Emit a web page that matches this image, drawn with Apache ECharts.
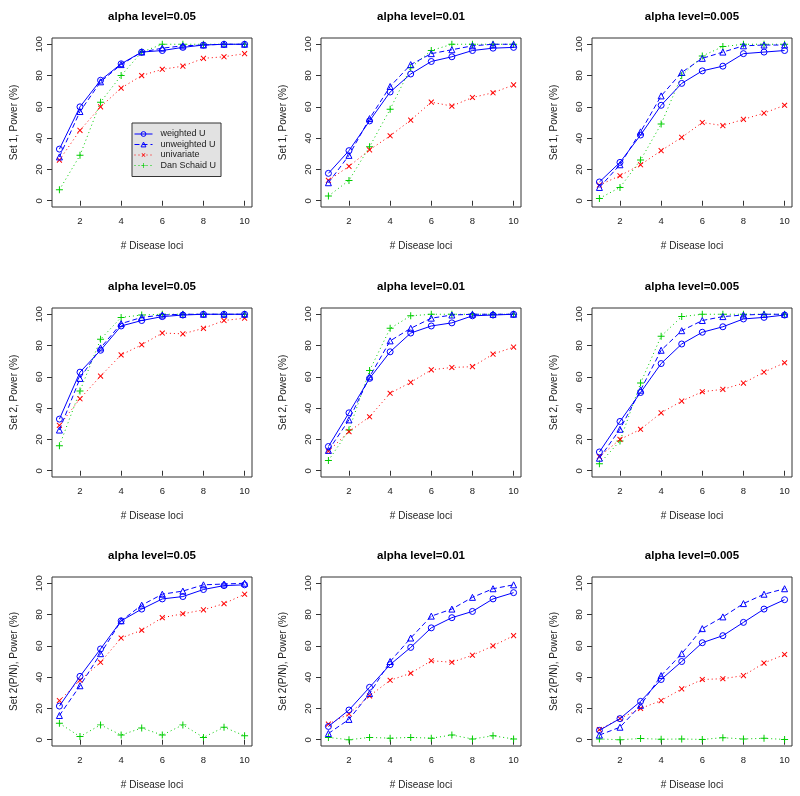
<!DOCTYPE html>
<html>
<head>
<meta charset="utf-8">
<script src="https://cdn.jsdelivr.net/npm/echarts@6/dist/echarts.min.js"></script>
<style>
  html, body { margin: 0; padding: 0; background: #fff; }
  #main { width: 800px; height: 796px; }
</style>
</head>
<body>
<div id="main"></div>
<script>
// x values and tick labels
var loci = [1, 2, 3, 4, 5, 6, 7, 8, 9, 10];
var xTicks = [2, 4, 6, 8, 10];
var yTicks = [0, 20, 40, 60, 80, 100];
var titles = ["alpha level=0.05", "alpha level=0.01", "alpha level=0.005"];
var yNames = ["Set 1, Power (%)", "Set 2, Power (%)", "Set 2(P/N), Power (%)"];
var seriesNames = ["weighted U", "unweighted U", "univariate", "Dan Schaid U"];

// Set 1
var set1_05_weighted = [33, 60, 77, 87.5, 95, 96, 98, 99.5, 100, 100];
var set1_05_unweighted = [28, 57, 76, 87, 95, 97.5, 99, 99.5, 100, 100];
var set1_05_univariate = [26, 45, 60, 72, 80, 84, 86, 91, 92, 94];
var set1_05_schaid = [7, 29, 63, 80, 95, 100, 100, 100, 100, 100];

var set1_01_weighted = [17.5, 32, 51, 69.5, 81, 89, 92, 96, 97.5, 98];
var set1_01_unweighted = [11.5, 29, 52.5, 73, 87, 94, 96.5, 99, 100, 100];
var set1_01_univariate = [13, 22, 32.5, 41.5, 51.5, 63, 60.5, 66, 69, 74];
var set1_01_schaid = [3, 13, 34.5, 58.5, 85, 96, 100, 100, 100, 100];

var set1_005_weighted = [12, 24.5, 42, 61, 75, 83, 86, 94, 95, 96];
var set1_005_unweighted = [8.5, 23, 44, 67, 82, 91, 95, 99, 99.5, 99.5];
var set1_005_univariate = [10, 16, 23, 32, 40.5, 50, 48, 52, 56, 61];
var set1_005_schaid = [1.5, 8.5, 26, 49, 80, 92.5, 98.5, 100, 100, 100];

// Set 2
var set2_05_weighted = [33, 63, 77, 92.5, 96, 98.5, 99.5, 100, 100, 100];
var set2_05_unweighted = [26, 59, 78.5, 94, 98, 99.5, 100, 100, 100, 100];
var set2_05_univariate = [29, 46, 60.5, 74, 80.5, 88, 87.5, 91, 96, 97.5];
var set2_05_schaid = [16, 51, 84, 98, 99.5, 100, 100, 100, 100, 100];

var set2_01_weighted = [15.5, 37, 59, 76, 88, 92.5, 94.5, 99, 99.5, 100];
var set2_01_unweighted = [13, 32.5, 60, 83, 91, 97.5, 99.5, 100, 100, 100];
var set2_01_univariate = [12.5, 25, 34.5, 49.5, 56.5, 64.5, 66, 66.5, 74.5, 79];
var set2_01_schaid = [6.5, 26, 64, 91, 99, 100, 100, 100, 100, 100];

var set2_005_weighted = [12, 31.5, 50, 68.5, 81, 88.5, 92, 97, 98, 99.5];
var set2_005_unweighted = [8, 26.5, 51.5, 77, 89.5, 96, 98.5, 99.5, 100, 100];
var set2_005_univariate = [9, 20, 26.5, 37, 44.5, 50.5, 52, 56, 63, 69];
var set2_005_schaid = [4.5, 19, 56, 86, 98.5, 100, 100, 100, 100, 100];

// Set 2 (P/N)
var pn_05_weighted = [21.5, 40.5, 58, 76, 83.5, 90, 91.5, 96, 98.5, 99];
var pn_05_unweighted = [15.5, 34.5, 55, 76, 86, 93, 95, 99, 99.5, 100];
var pn_05_univariate = [25, 38, 49.5, 65, 70, 78, 80.5, 83, 87, 93];
var pn_05_schaid = [10.5, 2, 9.5, 3, 7.5, 3, 9.5, 1.5, 8, 2.5];

var pn_01_weighted = [8.5, 19, 33.5, 48, 59, 71.5, 78, 82, 90, 94];
var pn_01_unweighted = [4, 13, 29.5, 50, 65, 79, 83.5, 91, 96.5, 99];
var pn_01_univariate = [10, 16.5, 28, 38, 42.5, 50.5, 49.5, 54, 60, 66.5];
var pn_01_schaid = [1.5, 0, 1.5, 1, 1.5, 1, 3, 0.5, 2.5, 0.5];

var pn_005_weighted = [6, 13.5, 24.5, 38.5, 50, 62, 66.5, 75, 83.5, 89.5];
var pn_005_unweighted = [3, 8, 22, 41, 55, 71, 78.5, 87, 93, 96.5];
var pn_005_univariate = [6.5, 13.5, 20, 25, 32.5, 38.5, 39, 41, 49, 54.5];
var pn_005_schaid = [0.5, 0, 0.8, 0.3, 0.5, 0.2, 1.3, 0.5, 0.9, 0.2];

var panels = [
  [set1_05_weighted, set1_05_unweighted, set1_05_univariate, set1_05_schaid],
  [set1_01_weighted, set1_01_unweighted, set1_01_univariate, set1_01_schaid],
  [set1_005_weighted, set1_005_unweighted, set1_005_univariate, set1_005_schaid],
  [set2_05_weighted, set2_05_unweighted, set2_05_univariate, set2_05_schaid],
  [set2_01_weighted, set2_01_unweighted, set2_01_univariate, set2_01_schaid],
  [set2_005_weighted, set2_005_unweighted, set2_005_univariate, set2_005_schaid],
  [pn_05_weighted, pn_05_unweighted, pn_05_univariate, pn_05_schaid],
  [pn_01_weighted, pn_01_unweighted, pn_01_univariate, pn_01_schaid],
  [pn_005_weighted, pn_005_unweighted, pn_005_univariate, pn_005_schaid]
];

var font = "'Liberation Sans', Arial, Helvetica, sans-serif";
var txt = "#222";
var boxLeft = [52, 321, 592];
var boxTop = [38, 308, 577];
var boxW = 200, boxH = 169;

var plus = "path://M4.3,0H5.7V4.3H10V5.7H5.7V10H4.3V5.7H0V4.3H4.3Z";
var styles = [
  { color: "#0000ff", type: "solid", symbol: "circle", size: 6, hollow: true, rot: 0 },
  { color: "#0000ff", type: [5, 3], symbol: "triangle", size: 6, hollow: true, rot: 0 },
  { color: "#ff0000", type: [1, 3], symbol: plus, size: 7, hollow: false, rot: 45 },
  { color: "#00cd00", type: [1, 3], symbol: plus, size: 7, hollow: false, rot: 0 }
];

var grids = [], xAxes = [], yAxes = [], series = [], titleList = [];

for (var p = 0; p < 9; p++) {
  var r = Math.floor(p / 3), c = p % 3;
  grids.push({
    left: boxLeft[c], top: boxTop[r], width: boxW, height: boxH,
    show: true, borderColor: "#333", borderWidth: 1, backgroundColor: "transparent"
  });
  titleList.push({
    text: titles[c],
    left: boxLeft[c] + boxW / 2,
    top: boxTop[r] - 27,
    textAlign: "center",
    padding: 0,
    textStyle: { fontSize: 11.5, fontWeight: "bold", color: "#000", fontFamily: font }
  });
  xAxes.push({
    type: "value", gridIndex: p, min: 0.64, max: 10.36,
    name: "# Disease loci", nameLocation: "middle", nameGap: 34,
    nameTextStyle: { fontSize: 10, color: txt, fontFamily: font },
    axisLine: { show: false },
    axisTick: { show: true, inside: false, length: 5, customValues: xTicks, lineStyle: { color: "#333" } },
    axisLabel: { customValues: xTicks, fontSize: 9.5, margin: 9, color: txt, fontFamily: font },
    splitLine: { show: false }
  });
  yAxes.push({
    type: "value", gridIndex: p, min: -4, max: 104,
    name: yNames[r], nameLocation: "middle", nameGap: 33, nameRotate: 90,
    nameTextStyle: { fontSize: 10, color: txt, fontFamily: font },
    axisLine: { show: false },
    axisTick: { show: true, inside: false, length: 5, customValues: yTicks, lineStyle: { color: "#333" } },
    axisLabel: { customValues: yTicks, rotate: 90, fontSize: 9.5, margin: 8, color: txt, fontFamily: font },
    splitLine: { show: false }
  });
  for (var s = 0; s < 4; s++) {
    var st = styles[s];
    var vals = panels[p][s];
    series.push({
      name: seriesNames[s],
      type: "line",
      xAxisIndex: p, yAxisIndex: p,
      data: loci.map(function (x, j) { return [x, vals[j]]; }),
      symbol: st.symbol,
      symbolSize: st.size,
      symbolRotate: st.rot,
      showAllSymbol: true,
      lineStyle: { color: st.color, width: 1, type: st.type },
      itemStyle: st.hollow
        ? { color: "rgba(0,0,0,0)", borderColor: st.color, borderWidth: 1 }
        : { color: st.color, borderWidth: 0 },
      emphasis: { disabled: true },
      animation: false,
      z: 2 + (3 - s)
    });
  }
}

var chart = echarts.init(document.getElementById("main"), null, { renderer: "canvas" });
chart.setOption({
  backgroundColor: "#fff",
  animation: false,
  title: titleList,
  legend: {
    data: seriesNames,
    orient: "vertical",
    left: 132, top: 123,
    backgroundColor: "#e2e2e2",
    borderColor: "#333", borderWidth: 1, borderRadius: 0,
    padding: [6, 5, 6, 2],
    itemWidth: 18, itemHeight: 6, itemGap: 0.5,
    selectedMode: false,
    lineStyle: { width: 1 },
    itemStyle: { borderWidth: 1 },
    textStyle: { fontSize: 9, lineHeight: 10, color: txt, fontFamily: font, padding: [0, 0, 0, 3] }
  },
  grid: grids,
  xAxis: xAxes,
  yAxis: yAxes,
  series: series
});
</script>
</body>
</html>
